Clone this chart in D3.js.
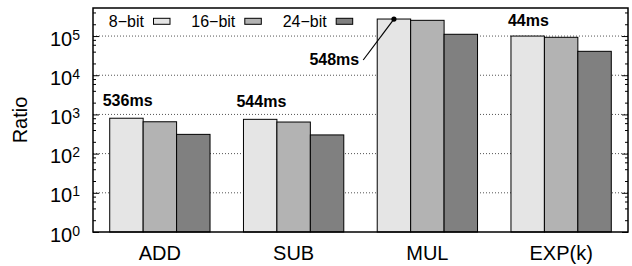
<!DOCTYPE html>
<html>
<head>
<meta charset="utf-8">
<script src="https://cdn.jsdelivr.net/npm/d3@7/dist/d3.min.js"></script>
<style>
  html, body { margin: 0; padding: 0; background: #fff; }
  svg { display: block; }
  text { font-family: "Liberation Sans", Arial, Helvetica, sans-serif; fill: #000; }
</style>
</head>
<body>
<svg id="chart" width="632" height="266"></svg>
<script>
// ---- data ----
const categories = ["ADD", "SUB", "MUL", "EXP(k)"];
const seriesNames = ["8\u2212bit", "16\u2212bit", "24\u2212bit"];
const seriesColors = ["#e5e5e5", "#b3b3b3", "#808080"];
const bits8  = [800, 750, 272000, 100000];
const bits16 = [650, 640, 252000, 93000];
const bits24 = [310, 300, 111000, 40800];
const timeLabels = ["536ms", "544ms", "548ms", "44ms"];
const yTickExps = [0, 1, 2, 3, 4, 5];

const series = [bits8, bits16, bits24];

// ---- layout ----
const svg = d3.select("#chart");
const L = 93, R = 628, T = 8, B = 232;

const x = d3.scaleBand().domain(categories).range([L, R]).paddingInner(0.25).paddingOuter(0.125);
const xs = d3.scaleBand().domain(d3.range(series.length)).range([0, x.bandwidth()]);
const y = d3.scaleLog().domain([1, 5.2e5]).range([B, T]);

// gridlines (dotted) at major decades
const gridVals = yTickExps.filter(e => e > 0).map(e => Math.pow(10, e));
svg.append("g").selectAll("line").data(gridVals).join("line")
  .attr("x1", L).attr("x2", R)
  .attr("y1", d => y(d)).attr("y2", d => y(d))
  .attr("stroke", "#555").attr("stroke-width", 1)
  .attr("stroke-dasharray", "1,2");

// minor + major ticks (inward, mirrored)
const minorVals = [];
for (let e = 0; e < 6; e++) {
  [2, 4, 6, 8].forEach(m => { const v = m * Math.pow(10, e); if (v < 5.2e5) minorVals.push(v); });
}
const leftAxisMajor = d3.axisRight(y).tickValues(yTickExps.map(e => Math.pow(10, e))).tickSize(6).tickFormat("");
const leftAxisMinor = d3.axisRight(y).tickValues(minorVals).tickSize(3).tickFormat("");
const rightAxisMajor = d3.axisLeft(y).tickValues(yTickExps.map(e => Math.pow(10, e))).tickSize(6).tickFormat("");
const rightAxisMinor = d3.axisLeft(y).tickValues(minorVals).tickSize(3).tickFormat("");
[[leftAxisMajor, L], [leftAxisMinor, L], [rightAxisMajor, R], [rightAxisMinor, R]].forEach(([ax, xp]) => {
  const g = svg.append("g").attr("transform", `translate(${xp},0)`).call(ax);
  g.select(".domain").remove();
  g.selectAll(".tick line").attr("stroke", "#000").attr("stroke-width", 1);
});

// bars
const groups = svg.append("g").selectAll("g").data(categories).join("g")
  .attr("transform", d => `translate(${x(d)},0)`);
groups.selectAll("rect").data((c, ci) => series.map((s, si) => ({ si, v: s[ci] }))).join("rect")
  .attr("x", d => xs(d.si))
  .attr("y", d => y(d.v))
  .attr("width", xs.bandwidth())
  .attr("height", d => B - y(d.v))
  .attr("fill", d => seriesColors[d.si])
  .attr("stroke", "#000").attr("stroke-width", 1);

// frame
svg.append("rect").attr("x", L).attr("y", T).attr("width", R - L).attr("height", B - T)
  .attr("fill", "none").attr("stroke", "#000").attr("stroke-width", 1.5);

// y tick labels 10^n
const yl = svg.append("g").selectAll("text").data(yTickExps).join("text")
  .attr("x", 80).attr("y", e => y(Math.pow(10, e)) + 9.5)
  .attr("text-anchor", "end").attr("font-size", 20);
yl.append("tspan").text("10");
yl.append("tspan").attr("font-size", 14).attr("dy", -6).text(e => e);

// x labels
svg.append("g").selectAll("text").data(categories).join("text")
  .attr("x", d => x(d) + x.bandwidth() / 2).attr("y", 259.5)
  .attr("text-anchor", "middle").attr("font-size", 20)
  .text(d => d);

// y title
svg.append("text").attr("transform", "translate(27,120) rotate(-90)")
  .attr("text-anchor", "middle").attr("font-size", 20).text("Ratio");

// legend
const legX = [144, 235.3, 326.7];
seriesNames.forEach((n, i) => {
  svg.append("text").attr("x", legX[i]).attr("y", 26.5).attr("text-anchor", "end")
    .attr("font-size", 16).text(n);
  svg.append("rect").attr("x", legX[i] + 9.5).attr("y", 18.3).attr("width", 16.5).attr("height", 6)
    .attr("fill", seriesColors[i]).attr("stroke", "#000").attr("stroke-width", 1);
});

// time annotations
const ann = svg.append("g").attr("font-size", 16).attr("font-weight", "bold");
// ADD, SUB: above group
[0, 1].forEach(ci => {
  const c = categories[ci];
  ann.append("text").attr("x", x(c) - 7).attr("y", y(bits8[ci]) - 12.5).text(timeLabels[ci]);
});
// MUL: with leader line to top of 8-bit bar
{
  const ci = 2, c = categories[ci];
  const px = x(c) + xs(0) + xs.bandwidth() / 2, py = y(bits8[ci]);
  ann.append("text").attr("x", x(c) - 18).attr("y", 65).attr("text-anchor", "end").text(timeLabels[ci]);
  svg.append("line").attr("x1", x(c) - 14).attr("y1", 60).attr("x2", px).attr("y2", py)
    .attr("stroke", "#000").attr("stroke-width", 1.2);
  svg.append("circle").attr("cx", px).attr("cy", py).attr("r", 2.6).attr("fill", "#000");
}
// EXP: above
{
  const ci = 3, c = categories[ci];
  ann.append("text").attr("x", x(c) - 3).attr("y", y(bits8[ci]) - 10).text(timeLabels[ci]);
}
</script>
</body>
</html>
